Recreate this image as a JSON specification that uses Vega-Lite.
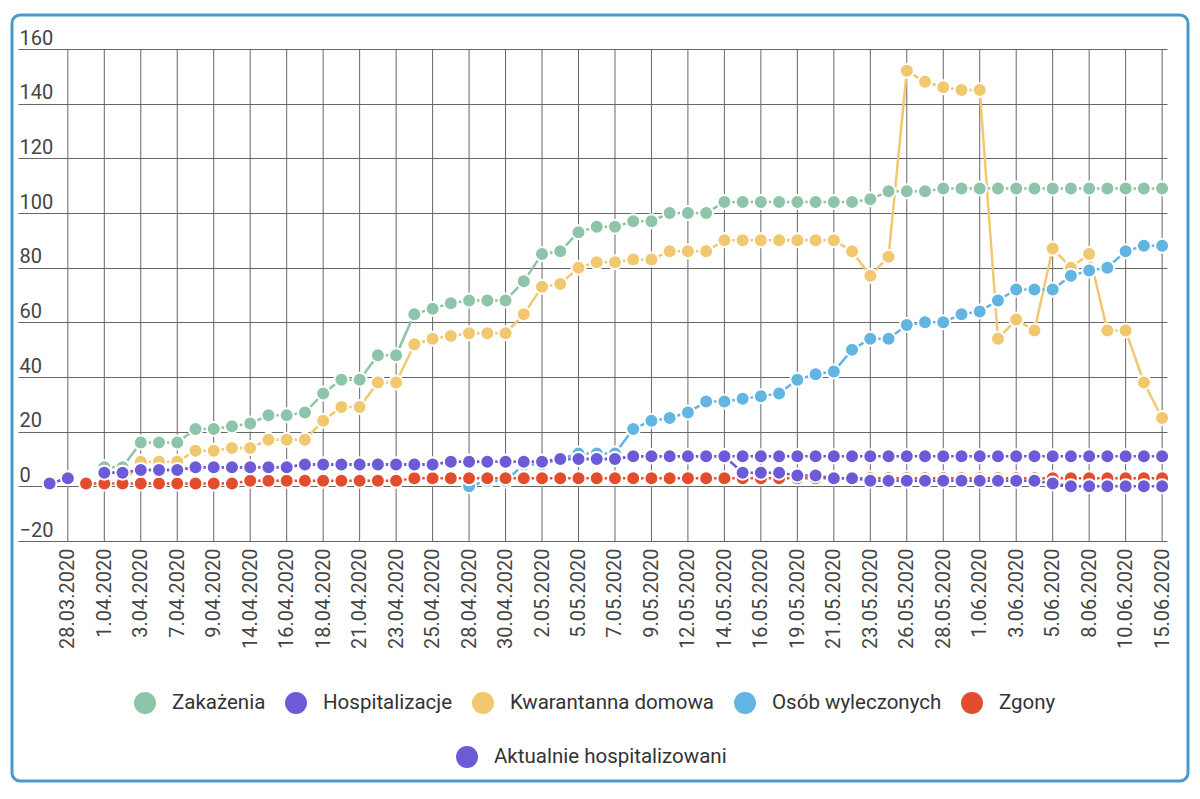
{
  "$schema": "https://vega.github.io/schema/vega-lite/v6.json",
  "width": 1176,
  "height": 766,
  "autosize": {"type": "none"},
  "padding": {"left": 12, "top": 15, "right": 12, "bottom": 18},
  "background": "white",
  "config": {
    "view": {"stroke": "#4a9acb", "strokeWidth": 3, "cornerRadius": 8, "fill": "white"},
    "font": "Roboto",
    "axis": {"labelFont": "Roboto", "labelFontSize": 20, "labelColor": "#444444", "gridColor": "#666666", "gridWidth": 1, "gridOpacity": 1, "domain": false, "ticks": false, "tickSize": 0, "title": null, "labelOverlap": false, "labelBound": false, "labelFlush": false}
  },
  "data": {"values": [
    {"d": "26.03.2020", "Zakażenia": null, "Hospitalizacje": 1, "Kwarantanna domowa": null, "Osób wyleczonych": null, "Zgony": null, "Aktualnie hospitalizowani": 1},
    {"d": "28.03.2020", "Zakażenia": null, "Hospitalizacje": 3, "Kwarantanna domowa": null, "Osób wyleczonych": null, "Zgony": null, "Aktualnie hospitalizowani": 3},
    {"d": "30.03.2020", "Zakażenia": null, "Hospitalizacje": null, "Kwarantanna domowa": null, "Osób wyleczonych": null, "Zgony": 1, "Aktualnie hospitalizowani": null},
    {"d": "1.04.2020", "Zakażenia": 7, "Hospitalizacje": 5, "Kwarantanna domowa": null, "Osób wyleczonych": null, "Zgony": 1, "Aktualnie hospitalizowani": 5},
    {"d": "2.04.2020", "Zakażenia": 7, "Hospitalizacje": 5, "Kwarantanna domowa": 1, "Osób wyleczonych": null, "Zgony": 1, "Aktualnie hospitalizowani": 5},
    {"d": "3.04.2020", "Zakażenia": 16, "Hospitalizacje": 6, "Kwarantanna domowa": 9, "Osób wyleczonych": null, "Zgony": 1, "Aktualnie hospitalizowani": 6},
    {"d": "6.04.2020", "Zakażenia": 16, "Hospitalizacje": 6, "Kwarantanna domowa": 9, "Osób wyleczonych": null, "Zgony": 1, "Aktualnie hospitalizowani": 6},
    {"d": "7.04.2020", "Zakażenia": 16, "Hospitalizacje": 6, "Kwarantanna domowa": 9, "Osób wyleczonych": null, "Zgony": 1, "Aktualnie hospitalizowani": 6},
    {"d": "8.04.2020", "Zakażenia": 21, "Hospitalizacje": 7, "Kwarantanna domowa": 13, "Osób wyleczonych": null, "Zgony": 1, "Aktualnie hospitalizowani": 7},
    {"d": "9.04.2020", "Zakażenia": 21, "Hospitalizacje": 7, "Kwarantanna domowa": 13, "Osób wyleczonych": null, "Zgony": 1, "Aktualnie hospitalizowani": 7},
    {"d": "10.04.2020", "Zakażenia": 22, "Hospitalizacje": 7, "Kwarantanna domowa": 14, "Osób wyleczonych": null, "Zgony": 1, "Aktualnie hospitalizowani": 7},
    {"d": "14.04.2020", "Zakażenia": 23, "Hospitalizacje": 7, "Kwarantanna domowa": 14, "Osób wyleczonych": null, "Zgony": 2, "Aktualnie hospitalizowani": 7},
    {"d": "15.04.2020", "Zakażenia": 26, "Hospitalizacje": 7, "Kwarantanna domowa": 17, "Osób wyleczonych": null, "Zgony": 2, "Aktualnie hospitalizowani": 7},
    {"d": "16.04.2020", "Zakażenia": 26, "Hospitalizacje": 7, "Kwarantanna domowa": 17, "Osób wyleczonych": null, "Zgony": 2, "Aktualnie hospitalizowani": 7},
    {"d": "17.04.2020", "Zakażenia": 27, "Hospitalizacje": 8, "Kwarantanna domowa": 17, "Osób wyleczonych": null, "Zgony": 2, "Aktualnie hospitalizowani": 8},
    {"d": "18.04.2020", "Zakażenia": 34, "Hospitalizacje": 8, "Kwarantanna domowa": 24, "Osób wyleczonych": null, "Zgony": 2, "Aktualnie hospitalizowani": 8},
    {"d": "20.04.2020", "Zakażenia": 39, "Hospitalizacje": 8, "Kwarantanna domowa": 29, "Osób wyleczonych": null, "Zgony": 2, "Aktualnie hospitalizowani": 8},
    {"d": "21.04.2020", "Zakażenia": 39, "Hospitalizacje": 8, "Kwarantanna domowa": 29, "Osób wyleczonych": null, "Zgony": 2, "Aktualnie hospitalizowani": 8},
    {"d": "22.04.2020", "Zakażenia": 48, "Hospitalizacje": 8, "Kwarantanna domowa": 38, "Osób wyleczonych": null, "Zgony": 2, "Aktualnie hospitalizowani": 8},
    {"d": "23.04.2020", "Zakażenia": 48, "Hospitalizacje": 8, "Kwarantanna domowa": 38, "Osób wyleczonych": null, "Zgony": 2, "Aktualnie hospitalizowani": 8},
    {"d": "24.04.2020", "Zakażenia": 63, "Hospitalizacje": 8, "Kwarantanna domowa": 52, "Osób wyleczonych": null, "Zgony": 3, "Aktualnie hospitalizowani": 8},
    {"d": "25.04.2020", "Zakażenia": 65, "Hospitalizacje": 8, "Kwarantanna domowa": 54, "Osób wyleczonych": null, "Zgony": 3, "Aktualnie hospitalizowani": 8},
    {"d": "27.04.2020", "Zakażenia": 67, "Hospitalizacje": 9, "Kwarantanna domowa": 55, "Osób wyleczonych": null, "Zgony": 3, "Aktualnie hospitalizowani": 9},
    {"d": "28.04.2020", "Zakażenia": 68, "Hospitalizacje": 9, "Kwarantanna domowa": 56, "Osób wyleczonych": 0, "Zgony": 3, "Aktualnie hospitalizowani": 9},
    {"d": "29.04.2020", "Zakażenia": 68, "Hospitalizacje": 9, "Kwarantanna domowa": 56, "Osób wyleczonych": 2, "Zgony": 3, "Aktualnie hospitalizowani": 9},
    {"d": "30.04.2020", "Zakażenia": 68, "Hospitalizacje": 9, "Kwarantanna domowa": 56, "Osób wyleczonych": 2, "Zgony": 3, "Aktualnie hospitalizowani": 9},
    {"d": "1.05.2020", "Zakażenia": 75, "Hospitalizacje": 9, "Kwarantanna domowa": 63, "Osób wyleczonych": 8, "Zgony": 3, "Aktualnie hospitalizowani": 9},
    {"d": "2.05.2020", "Zakażenia": 85, "Hospitalizacje": 9, "Kwarantanna domowa": 73, "Osób wyleczonych": 8, "Zgony": 3, "Aktualnie hospitalizowani": 9},
    {"d": "4.05.2020", "Zakażenia": 86, "Hospitalizacje": 10, "Kwarantanna domowa": 74, "Osób wyleczonych": 10, "Zgony": 3, "Aktualnie hospitalizowani": 10},
    {"d": "5.05.2020", "Zakażenia": 93, "Hospitalizacje": 10, "Kwarantanna domowa": 80, "Osób wyleczonych": 12, "Zgony": 3, "Aktualnie hospitalizowani": 10},
    {"d": "6.05.2020", "Zakażenia": 95, "Hospitalizacje": 10, "Kwarantanna domowa": 82, "Osób wyleczonych": 12, "Zgony": 3, "Aktualnie hospitalizowani": 10},
    {"d": "7.05.2020", "Zakażenia": 95, "Hospitalizacje": 10, "Kwarantanna domowa": 82, "Osób wyleczonych": 12, "Zgony": 3, "Aktualnie hospitalizowani": 10},
    {"d": "8.05.2020", "Zakażenia": 97, "Hospitalizacje": 11, "Kwarantanna domowa": 83, "Osób wyleczonych": 21, "Zgony": 3, "Aktualnie hospitalizowani": 11},
    {"d": "9.05.2020", "Zakażenia": 97, "Hospitalizacje": 11, "Kwarantanna domowa": 83, "Osób wyleczonych": 24, "Zgony": 3, "Aktualnie hospitalizowani": 11},
    {"d": "11.05.2020", "Zakażenia": 100, "Hospitalizacje": 11, "Kwarantanna domowa": 86, "Osób wyleczonych": 25, "Zgony": 3, "Aktualnie hospitalizowani": 11},
    {"d": "12.05.2020", "Zakażenia": 100, "Hospitalizacje": 11, "Kwarantanna domowa": 86, "Osób wyleczonych": 27, "Zgony": 3, "Aktualnie hospitalizowani": 11},
    {"d": "13.05.2020", "Zakażenia": 100, "Hospitalizacje": 11, "Kwarantanna domowa": 86, "Osób wyleczonych": 31, "Zgony": 3, "Aktualnie hospitalizowani": 11},
    {"d": "14.05.2020", "Zakażenia": 104, "Hospitalizacje": 11, "Kwarantanna domowa": 90, "Osób wyleczonych": 31, "Zgony": 3, "Aktualnie hospitalizowani": 11},
    {"d": "15.05.2020", "Zakażenia": 104, "Hospitalizacje": 11, "Kwarantanna domowa": 90, "Osób wyleczonych": 32, "Zgony": 3, "Aktualnie hospitalizowani": 5},
    {"d": "16.05.2020", "Zakażenia": 104, "Hospitalizacje": 11, "Kwarantanna domowa": 90, "Osób wyleczonych": 33, "Zgony": 3, "Aktualnie hospitalizowani": 5},
    {"d": "18.05.2020", "Zakażenia": 104, "Hospitalizacje": 11, "Kwarantanna domowa": 90, "Osób wyleczonych": 34, "Zgony": 3, "Aktualnie hospitalizowani": 5},
    {"d": "19.05.2020", "Zakażenia": 104, "Hospitalizacje": 11, "Kwarantanna domowa": 90, "Osób wyleczonych": 39, "Zgony": 3, "Aktualnie hospitalizowani": 4},
    {"d": "20.05.2020", "Zakażenia": 104, "Hospitalizacje": 11, "Kwarantanna domowa": 90, "Osób wyleczonych": 41, "Zgony": 3, "Aktualnie hospitalizowani": 4},
    {"d": "21.05.2020", "Zakażenia": 104, "Hospitalizacje": 11, "Kwarantanna domowa": 90, "Osób wyleczonych": 42, "Zgony": 3, "Aktualnie hospitalizowani": 3},
    {"d": "22.05.2020", "Zakażenia": 104, "Hospitalizacje": 11, "Kwarantanna domowa": 86, "Osób wyleczonych": 50, "Zgony": 3, "Aktualnie hospitalizowani": 3},
    {"d": "23.05.2020", "Zakażenia": 105, "Hospitalizacje": 11, "Kwarantanna domowa": 77, "Osób wyleczonych": 54, "Zgony": 3, "Aktualnie hospitalizowani": 2},
    {"d": "25.05.2020", "Zakażenia": 108, "Hospitalizacje": 11, "Kwarantanna domowa": 84, "Osób wyleczonych": 54, "Zgony": 3, "Aktualnie hospitalizowani": 2},
    {"d": "26.05.2020", "Zakażenia": 108, "Hospitalizacje": 11, "Kwarantanna domowa": 152, "Osób wyleczonych": 59, "Zgony": 3, "Aktualnie hospitalizowani": 2},
    {"d": "27.05.2020", "Zakażenia": 108, "Hospitalizacje": 11, "Kwarantanna domowa": 148, "Osób wyleczonych": 60, "Zgony": 3, "Aktualnie hospitalizowani": 2},
    {"d": "28.05.2020", "Zakażenia": 109, "Hospitalizacje": 11, "Kwarantanna domowa": 146, "Osób wyleczonych": 60, "Zgony": 3, "Aktualnie hospitalizowani": 2},
    {"d": "29.05.2020", "Zakażenia": 109, "Hospitalizacje": 11, "Kwarantanna domowa": 145, "Osób wyleczonych": 63, "Zgony": 3, "Aktualnie hospitalizowani": 2},
    {"d": "1.06.2020", "Zakażenia": 109, "Hospitalizacje": 11, "Kwarantanna domowa": 145, "Osób wyleczonych": 64, "Zgony": 3, "Aktualnie hospitalizowani": 2},
    {"d": "2.06.2020", "Zakażenia": 109, "Hospitalizacje": 11, "Kwarantanna domowa": 54, "Osób wyleczonych": 68, "Zgony": 3, "Aktualnie hospitalizowani": 2},
    {"d": "3.06.2020", "Zakażenia": 109, "Hospitalizacje": 11, "Kwarantanna domowa": 61, "Osób wyleczonych": 72, "Zgony": 3, "Aktualnie hospitalizowani": 2},
    {"d": "4.06.2020", "Zakażenia": 109, "Hospitalizacje": 11, "Kwarantanna domowa": 57, "Osób wyleczonych": 72, "Zgony": 3, "Aktualnie hospitalizowani": 2},
    {"d": "5.06.2020", "Zakażenia": 109, "Hospitalizacje": 11, "Kwarantanna domowa": 87, "Osób wyleczonych": 72, "Zgony": 3, "Aktualnie hospitalizowani": 1},
    {"d": "7.06.2020", "Zakażenia": 109, "Hospitalizacje": 11, "Kwarantanna domowa": 80, "Osób wyleczonych": 77, "Zgony": 3, "Aktualnie hospitalizowani": 0},
    {"d": "8.06.2020", "Zakażenia": 109, "Hospitalizacje": 11, "Kwarantanna domowa": 85, "Osób wyleczonych": 79, "Zgony": 3, "Aktualnie hospitalizowani": 0},
    {"d": "9.06.2020", "Zakażenia": 109, "Hospitalizacje": 11, "Kwarantanna domowa": 57, "Osób wyleczonych": 80, "Zgony": 3, "Aktualnie hospitalizowani": 0},
    {"d": "10.06.2020", "Zakażenia": 109, "Hospitalizacje": 11, "Kwarantanna domowa": 57, "Osób wyleczonych": 86, "Zgony": 3, "Aktualnie hospitalizowani": 0},
    {"d": "12.06.2020", "Zakażenia": 109, "Hospitalizacje": 11, "Kwarantanna domowa": 38, "Osób wyleczonych": 88, "Zgony": 3, "Aktualnie hospitalizowani": 0},
    {"d": "15.06.2020", "Zakażenia": 109, "Hospitalizacje": 11, "Kwarantanna domowa": 25, "Osób wyleczonych": 88, "Zgony": 3, "Aktualnie hospitalizowani": 0}
  ]},
  "encoding": {
    "x": {
      "field": "d", "type": "ordinal",
      "sort": ["26.03.2020","28.03.2020","30.03.2020","1.04.2020","2.04.2020","3.04.2020","6.04.2020","7.04.2020","8.04.2020","9.04.2020","10.04.2020","14.04.2020","15.04.2020","16.04.2020","17.04.2020","18.04.2020","20.04.2020","21.04.2020","22.04.2020","23.04.2020","24.04.2020","25.04.2020","27.04.2020","28.04.2020","29.04.2020","30.04.2020","1.05.2020","2.05.2020","4.05.2020","5.05.2020","6.05.2020","7.05.2020","8.05.2020","9.05.2020","11.05.2020","12.05.2020","13.05.2020","14.05.2020","15.05.2020","16.05.2020","18.05.2020","19.05.2020","20.05.2020","21.05.2020","22.05.2020","23.05.2020","25.05.2020","26.05.2020","27.05.2020","28.05.2020","29.05.2020","1.06.2020","2.06.2020","3.06.2020","4.06.2020","5.06.2020","7.06.2020","8.06.2020","9.06.2020","10.06.2020","12.06.2020","15.06.2020"],
      "scale": {"type": "point", "range": [6, 1155], "padding": 1.72, "align": 0.866},
      "axis": {
        "values": ["28.03.2020","1.04.2020","3.04.2020","7.04.2020","9.04.2020","14.04.2020","16.04.2020","18.04.2020","21.04.2020","23.04.2020","25.04.2020","28.04.2020","30.04.2020","2.05.2020","5.05.2020","7.05.2020","9.05.2020","12.05.2020","14.05.2020","16.05.2020","19.05.2020","21.05.2020","23.05.2020","26.05.2020","28.05.2020","1.06.2020","3.06.2020","5.06.2020","8.06.2020","10.06.2020","15.06.2020"],
        "orient": "bottom", "offset": -240, "labelAngle": -90, "labelPadding": 7, "grid": false
      }
    }
  },
  "layer": [
    {
      "transform": [{"filter": {"field": "d", "oneOf": ["28.03.2020","1.04.2020","3.04.2020","7.04.2020","9.04.2020","14.04.2020","16.04.2020","18.04.2020","21.04.2020","23.04.2020","25.04.2020","28.04.2020","30.04.2020","2.05.2020","5.05.2020","7.05.2020","9.05.2020","12.05.2020","14.05.2020","16.05.2020","19.05.2020","21.05.2020","23.05.2020","26.05.2020","28.05.2020","1.06.2020","3.06.2020","5.06.2020","8.06.2020","10.06.2020","15.06.2020"]}}],
      "mark": {"type": "rule", "color": "#666666", "strokeWidth": 1},
      "encoding": {
        "y": {"datum": -20, "type": "quantitative",
          "scale": {"domain": [-20, 160], "range": [526, 34], "nice": false, "zero": false},
          "axis": {
            "values": [-20, 0, 20, 40, 60, 80, 100, 120, 140, 160],
            "orient": "left", "grid": true, "labelAlign": "left", "labelBaseline": "alphabetic",
            "labelPadding": -7, "labelOffset": -5
          }},
        "y2": {"datum": 160}
      }
    },
    {
      "transform": [{"fold": ["Zakażenia", "Hospitalizacje", "Kwarantanna domowa", "Osób wyleczonych", "Zgony"], "as": ["s", "v"]}],
      "mark": {"type": "line", "strokeWidth": 2.5, "invalid": "break-paths-filter-domains"},
      "encoding": {
        "y": {"field": "v", "type": "quantitative", "scale": {"domain": [-20, 160], "range": [526, 34], "nice": false, "zero": false}},
        "color": {"field": "s", "type": "nominal",
          "scale": {"domain": ["Zakażenia", "Hospitalizacje", "Kwarantanna domowa", "Osób wyleczonych", "Zgony"], "range": ["#8ec4a9", "#6c5bd6", "#f1c86f", "#62b4e2", "#e34c2c"]},
          "legend": null}
      }
    },
    {
      "transform": [{"fold": ["Zakażenia", "Hospitalizacje", "Kwarantanna domowa", "Osób wyleczonych", "Zgony"], "as": ["s", "v"]}],
      "mark": {"type": "point", "filled": true, "size": 196, "stroke": "white", "strokeWidth": 2, "opacity": 1, "invalid": "filter"},
      "encoding": {
        "y": {"field": "v", "type": "quantitative", "scale": {"domain": [-20, 160], "range": [526, 34], "nice": false, "zero": false}},
        "color": {"field": "s", "type": "nominal",
          "scale": {"domain": ["Zakażenia", "Hospitalizacje", "Kwarantanna domowa", "Osób wyleczonych", "Zgony"], "range": ["#8ec4a9", "#6c5bd6", "#f1c86f", "#62b4e2", "#e34c2c"]},
          "legend": {"orient": "none", "legendX": 122, "legendY": 677, "direction": "horizontal", "columns": 5, "title": null,
            "symbolType": "circle", "symbolSize": 484, "symbolStrokeWidth": 0, "symbolOpacity": 1,
            "labelFontSize": 20.5, "labelFont": "Roboto", "labelColor": "#333333", "labelOffset": 16, "columnPadding": 19, "padding": 0, "labelLimit": 400}}
      }
    },
    {
      "transform": [{"fold": ["Aktualnie hospitalizowani"], "as": ["s", "v"]}],
      "mark": {"type": "line", "strokeWidth": 2.5, "invalid": "break-paths-filter-domains"},
      "encoding": {
        "y": {"field": "v", "type": "quantitative", "scale": {"domain": [-20, 160], "range": [526, 34], "nice": false, "zero": false}},
        "color": {"field": "s", "type": "nominal",
          "scale": {"domain": ["Aktualnie hospitalizowani"], "range": ["#6c5bd6"]},
          "legend": null}
      }
    },
    {
      "transform": [{"fold": ["Aktualnie hospitalizowani"], "as": ["s", "v"]}],
      "mark": {"type": "point", "filled": true, "size": 196, "stroke": "white", "strokeWidth": 2, "opacity": 1, "invalid": "filter"},
      "encoding": {
        "y": {"field": "v", "type": "quantitative", "scale": {"domain": [-20, 160], "range": [526, 34], "nice": false, "zero": false}},
        "color": {"field": "s", "type": "nominal",
          "scale": {"domain": ["Aktualnie hospitalizowani"], "range": ["#6c5bd6"]},
          "legend": {"orient": "none", "legendX": 444, "legendY": 731, "direction": "horizontal", "title": null,
            "symbolType": "circle", "symbolSize": 484, "symbolStrokeWidth": 0, "symbolOpacity": 1,
            "labelFontSize": 20.5, "labelFont": "Roboto", "labelColor": "#333333", "labelOffset": 16, "padding": 0, "labelLimit": 400}}
      }
    }
  ],
  "resolve": {"scale": {"color": "independent"}}
}
